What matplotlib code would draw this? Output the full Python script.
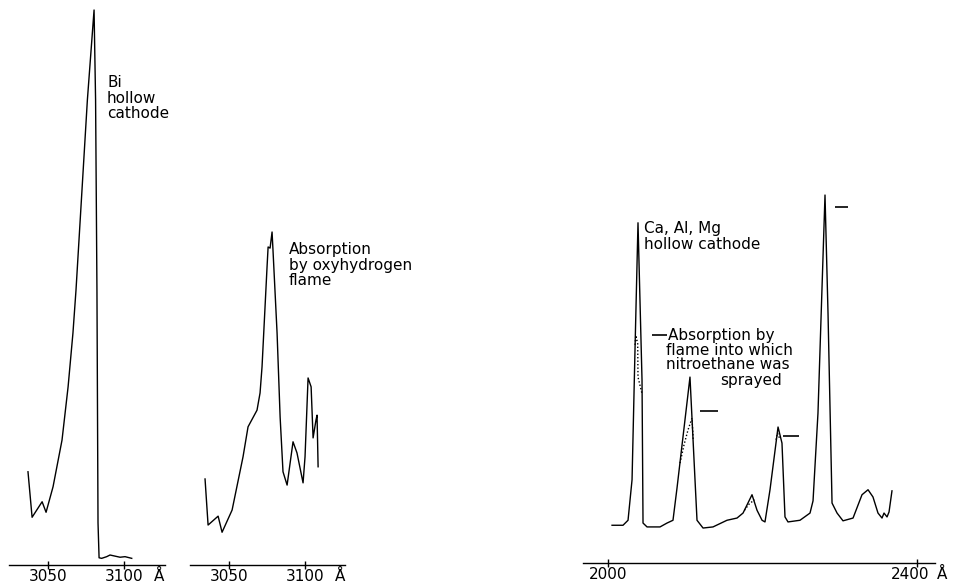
import matplotlib.pyplot as plt
from matplotlib.transforms import ScaledTranslation

plt.rcParams['font.family'] = ['DejaVu Sans']

# Bi hollow cathode emission (wavelength in Angstrom, relative intensity)
bi_wl = [3036.8, 3039.5, 3046.1, 3048.7, 3053.3, 3059.2, 3063.2, 3066.4, 3068.4,
         3075.9, 3080.3, 3081.3, 3082.2, 3082.9, 3083.6, 3085.3, 3088.6, 3090.8,
         3094.1, 3097.4, 3100.7, 3105.1]
bi_int = [16.8, 8.6, 11.4, 9.5, 14.1, 22.5, 32.1, 41.8, 49.5,
          83.8, 100.0, 83.8, 49.5, 7.6, 1.3, 1.2, 1.5, 1.8,
          1.6, 1.4, 1.5, 1.2]

# absorption by the oxyhydrogen flame
oh_wl = [3034.2, 3036.2, 3042.8, 3045.4, 3052.0, 3059.2, 3062.5, 3068.4, 3070.4,
         3071.7, 3075.0, 3075.7, 3077.0, 3078.3, 3078.9, 3081.6, 3083.6, 3085.5,
         3088.2, 3092.1, 3094.7, 3098.7, 3100.0, 3102.0, 3104.0, 3105.3, 3107.2,
         3107.9, 3108.6]
oh_int = [15.5, 7.2, 8.8, 5.9, 9.9, 19.5, 24.9, 27.9, 31.0,
          35.7, 53.7, 57.3, 57.1, 60.0, 56.8, 41.8, 26.7, 16.8,
          14.4, 22.2, 20.2, 14.8, 19.5, 33.7, 32.1, 22.9, 26.1,
          27.0, 17.7]

# Ca, Al, Mg hollow cathode emission
cam_wl = [2005.2, 2019.4, 2025.9, 2031.1, 2035.0, 2038.8, 2044.0, 2045.3, 2050.5,
          2067.3, 2076.4, 2084.1, 2089.3, 2106.1, 2112.6, 2115.2, 2123.0, 2135.9,
          2154.0, 2167.0, 2174.8, 2186.4, 2192.9, 2199.4, 2203.2, 2209.7, 2220.1,
          2225.2, 2229.1, 2233.0, 2248.5, 2261.5, 2265.4, 2271.8, 2280.9, 2284.8,
          2290.0, 2296.5, 2304.2, 2317.2, 2328.8, 2336.6, 2343.0, 2349.5, 2354.7,
          2357.3, 2361.2, 2363.8, 2367.6]
cam_int = [6.8, 6.8, 7.7, 15.0, 38.9, 61.3, 33.0, 7.2, 6.5,
           6.5, 7.2, 7.7, 13.5, 33.5, 15.0, 7.7, 6.3, 6.5,
           7.7, 8.1, 9.0, 12.3, 9.5, 7.7, 7.4, 13.2, 24.5,
           21.6, 8.3, 7.4, 7.7, 9.0, 11.2, 27.0, 66.3, 45.0,
           10.8, 9.0, 7.6, 8.1, 12.3, 13.2, 11.9, 9.0, 8.1,
           9.0, 8.3, 9.2, 13.0]

# flame with nitroethane: parts that differ from the cathode trace
nitro_wl = [
    [2035.0, 2036.0, 2038.4, 2038.8, 2044.0],
    [2093.2, 2098.4, 2103.6, 2108.7, 2110.3],
    [2176.6, 2182.5, 2189.6],
    [2217.5, 2219.4, 2222.0],
]
nitro_int = [
    [39.3, 41.0, 39.5, 33.5, 30.5],
    [18.0, 21.3, 24.0, 26.1, 22.2],
    [9.5, 10.6, 11.4],
    [22.2, 23.4, 22.5],
]

# absorbed peak levels, short bars beside each line
level_lo = [2057.0, 2119.1, 2226.5, 2293.9]
level_hi = [2076.4, 2142.4, 2247.2, 2310.7]
level_int = [41.1, 27.4, 22.9, 64.1]

bi_ticks = [3050, 3100]
oh_ticks = [3050, 3100]
cam_ticks = [2000, 2400]

W, H = 955, 585
SCALE = 5.55  # pixels per intensity unit
fig = plt.figure(figsize=(W / 100, H / 100), dpi=100)


def panel(left, right, base, xlim, ticks, unit_x):
    ax = fig.add_axes([left / W, (H - base) / H, (right - left) / W, base / H])
    ax.set_xlim(*xlim)
    ax.set_ylim(0, base / SCALE)
    for s in ('left', 'right', 'top'):
        ax.spines[s].set_visible(False)
    ax.spines['bottom'].set_linewidth(1.0)
    ax.set_yticks([])
    ax.set_xticks(ticks)
    ax.set_xticklabels([str(t) for t in ticks])
    ax.tick_params(axis='x', direction='inout', length=6, width=1, pad=0, labelsize=11)
    ax.patch.set_alpha(0)
    ax.annotate('Å', xy=(unit_x, 0), xycoords=('data', 'axes fraction'),
                xytext=(0, -3), textcoords='offset points',
                ha='center', va='top', fontsize=11)
    return ax


ax1 = panel(9, 165, 565, (3024.3, 3127.0), bi_ticks, 3123)
ax1.plot(bi_wl, bi_int, color='black', lw=1.0)

ax2 = panel(190, 345, 565, (3024.3, 3126.3), oh_ticks, 3123)
ax2.plot(oh_wl, oh_int, color='black', lw=1.0)

ax3 = panel(583, 935, 563, (1967.6, 2423.3), cam_ticks, 2433)
ax3.plot(cam_wl, cam_int, color='black', lw=1.0)
for xs, ys in zip(nitro_wl, nitro_int):
    ax3.plot(xs, ys, color='black', lw=1.0, ls=(0, (1, 1.5)))
ax3.hlines(level_int, level_lo, level_hi, color='black', lw=1.2)

# nudge the 2400 label left so it clears the unit sign
last = ax3.get_xticklabels()[-1]
last.set_transform(last.get_transform() + ScaledTranslation(-7 / 100, 0, fig.dpi_scale_trans))


def label(x, y, s, **kw):
    fig.text(x / W, 1 - y / H, s, ha='left', va='top', fontsize=11, **kw)


label(107, 75, 'Bi\nhollow\ncathode', linespacing=1.05)
label(289, 242, 'Absorption\nby oxyhydrogen\nflame', linespacing=1.05)
label(644, 221, 'Ca, Al, Mg\nhollow cathode', linespacing=1.1)
label(668, 328, 'Absorption by')
label(666, 343, 'flame into which\nnitroethane was', linespacing=0.95)
fig.text(751 / W, 1 - 373 / H, 'sprayed', ha='center', va='top', fontsize=11)

fig.savefig('out.png', dpi=100, facecolor='white')
